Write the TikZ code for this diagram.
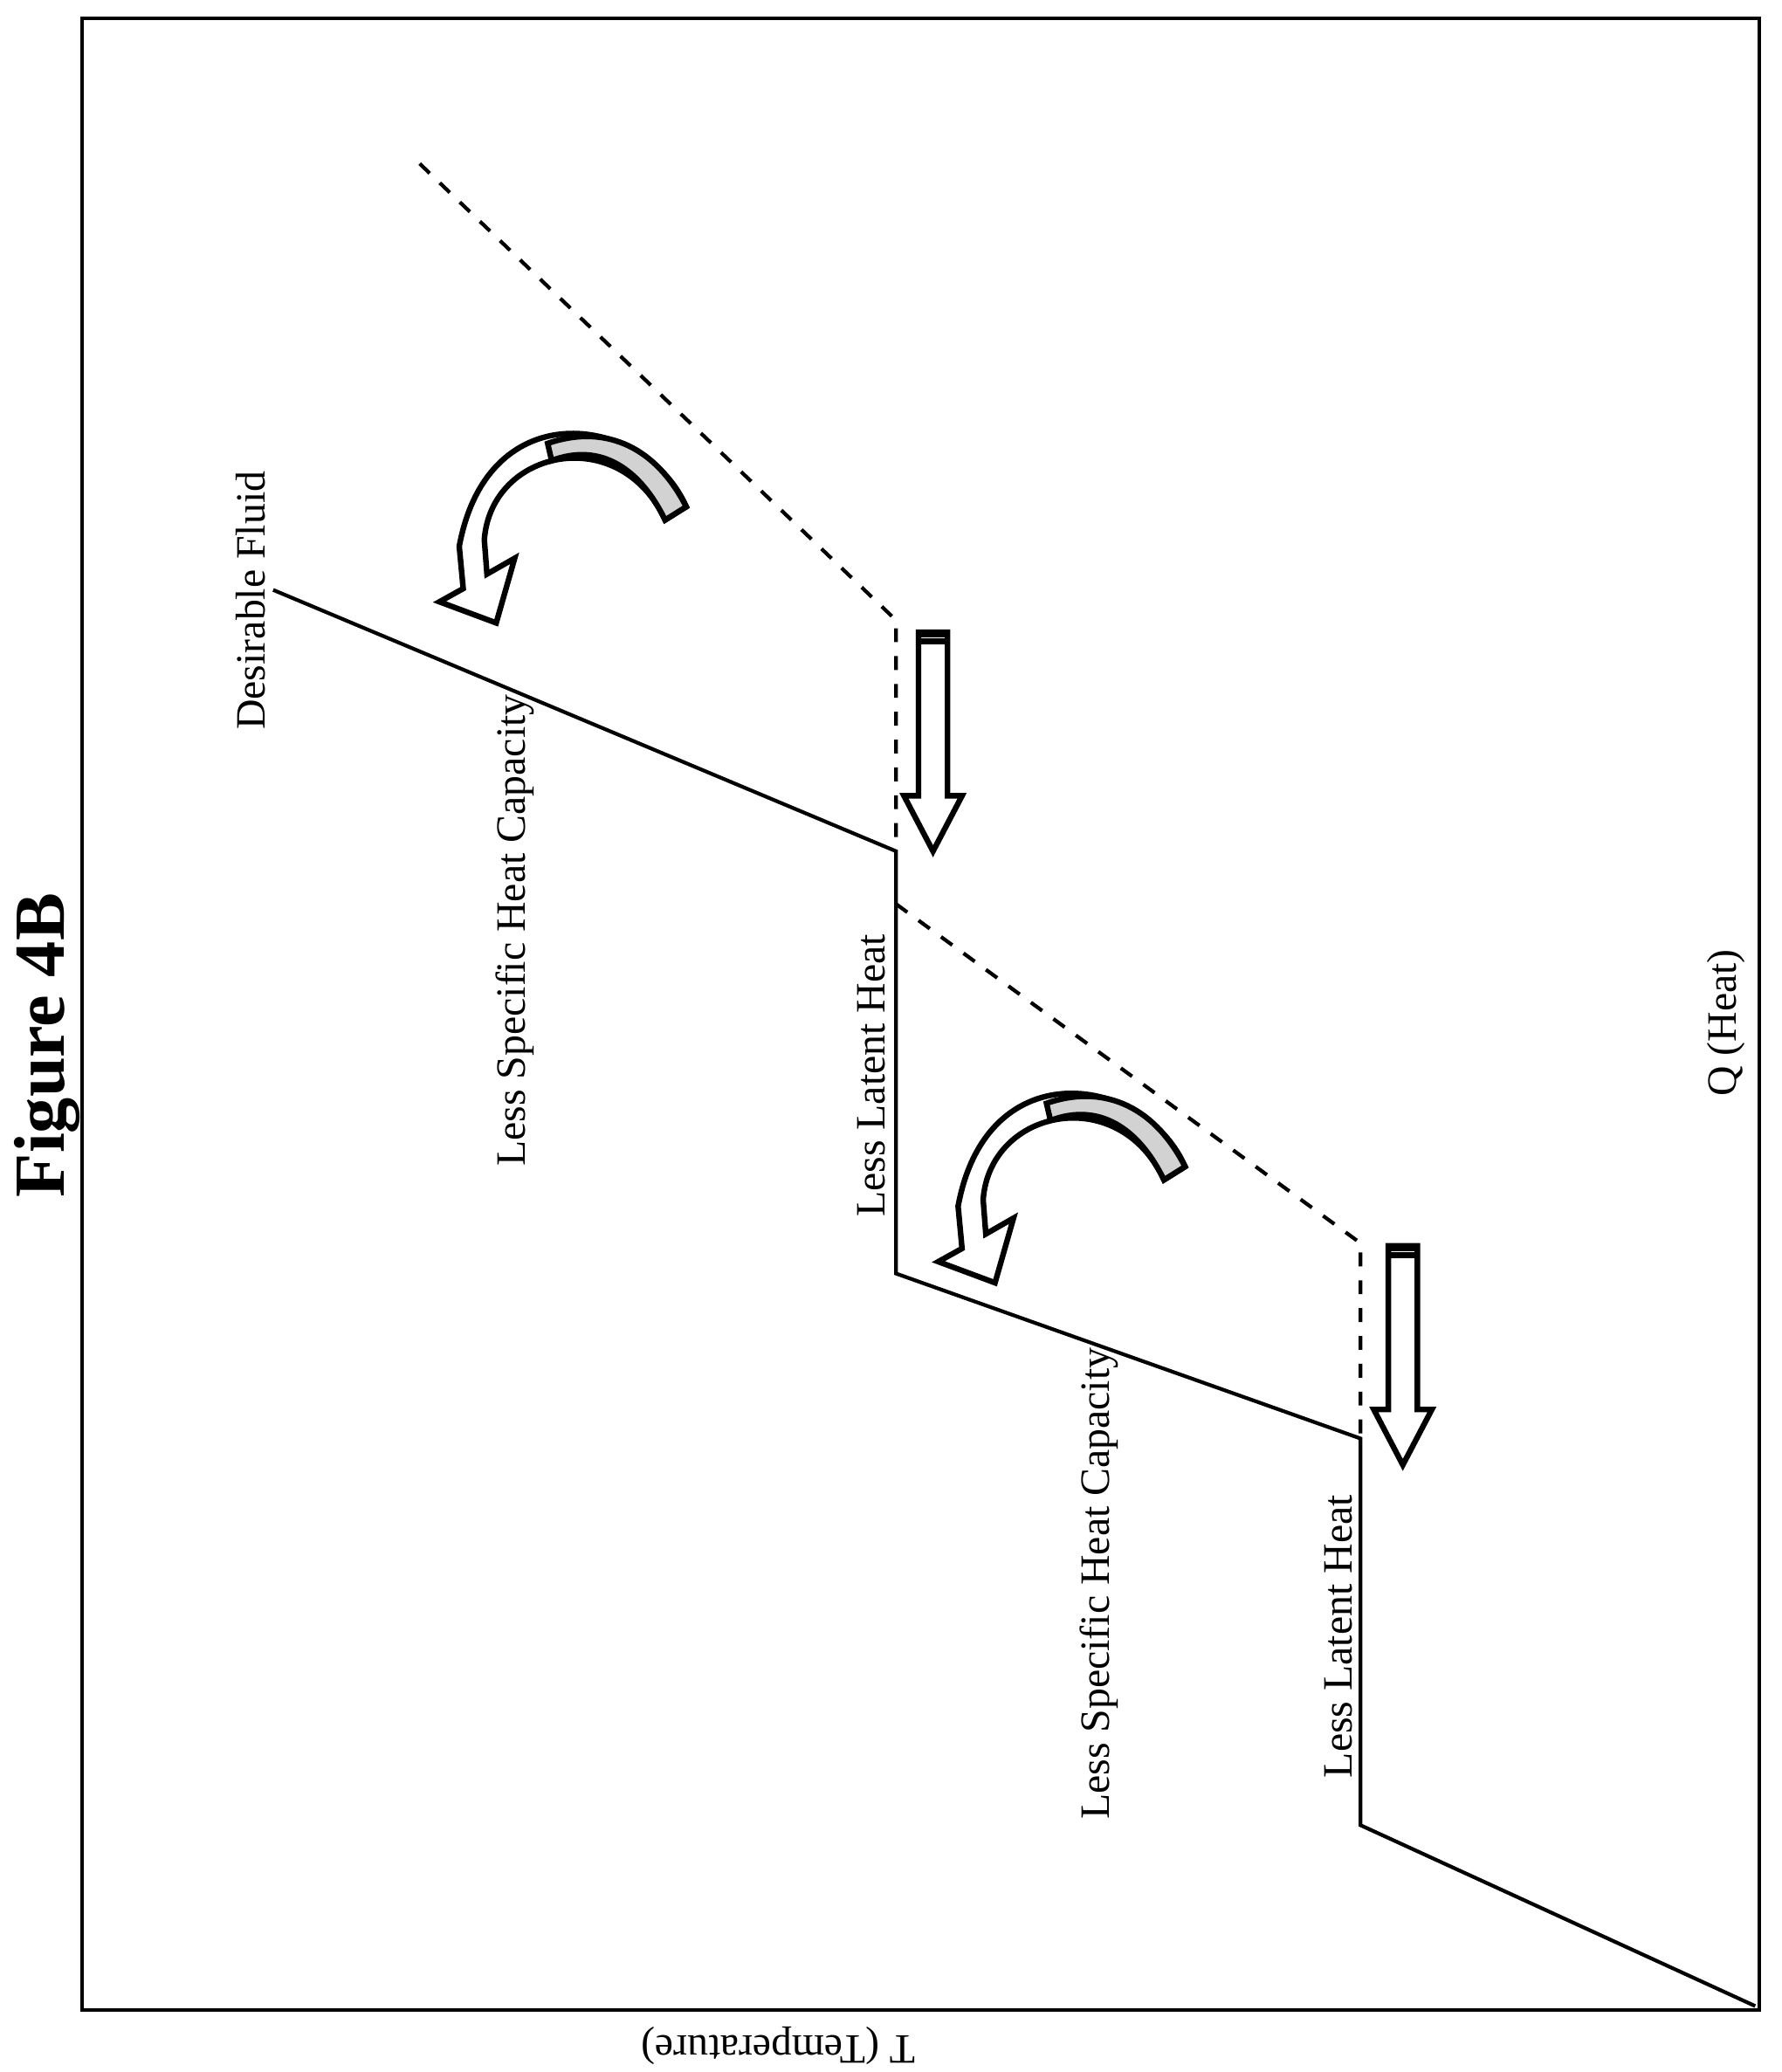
\documentclass[tikz,border=0pt]{standalone}
\usepackage{fontspec}
\setmainfont{Liberation Serif}
\tikzset{
  lbl/.style={rotate=90, font=\fontsize{9}{11}\selectfont},
  bendarrow/.pic={
    \draw [line width=1.2pt, fill=white] (520,384) .. controls (490,315) and (370,295) .. (348,414) -- (351,446) -- (333,456) -- (376,472) -- (390,423) -- (369,435) -- (367,409) .. controls (372,340) and (470,320) .. (504,394) -- cycle;
    \draw [line width=1.2pt, fill=gray!35] (520,384) .. controls (495,335) and (455,322) .. (415,336) -- (418,349) .. controls (455,335) and (485,355) .. (504,394) -- cycle;
  },
  downarrow/.pic={
    \draw [line width=1.2pt, fill=white] (696,479) -- (718,479) -- (718,603) -- (729,603) -- (707,645) -- (685,603) -- (696,603) -- cycle;
    \draw [line width=1.2pt] (696,486) -- (718,486);
    \fill (696,479) rectangle (718,483);
  }
}
\begin{document}
\begin{tikzpicture}[x=0.1mm, y=-0.1mm]
  \useasboundingbox (0,0) rectangle (1350,1570);
  \draw [line width=0.8pt] (62,14) rectangle (1333,1523);

  \node [rotate=90, font=\fontsize{15.5}{18}\selectfont\bfseries] (title) at (36,792) {Figure 4B};
  \node [rotate=180, font=\fontsize{9}{11}\selectfont] (taxis) at (590,1550) {T (Temperature)};
  \node [lbl] (qaxis) at (1308,775) {Q (Heat)};

  % solid curve
  \draw [line width=0.8pt] (207,447) -- (679,645) -- (679,965) -- (1031,1090) -- (1031,1383) -- (1330,1520);
  % dashed curve
  \draw [line width=0.8pt, dashed] (318,124) -- (679,470) -- (679,645);
  \draw [line width=0.8pt, dashed] (679,685) -- (1031,942) -- (1031,1090);

  \node [lbl] (fluid) at (190,455) {Desirable Fluid};
  \node [lbl] (shc1) at (390,705) {Less Specific Heat Capacity};
  \node [lbl] (lat1) at (660,815) {Less Latent Heat};
  \node [lbl] (shc2) at (833,1200) {Less Specific Heat Capacity};
  \node [lbl] (lat2) at (1014,1240) {Less Latent Heat};

  \pic at (0,0) {bendarrow};
  \pic at (378,500) {bendarrow};
  \pic at (0,0) {downarrow};
  \pic at (356,465) {downarrow};
\end{tikzpicture}
\end{document}
